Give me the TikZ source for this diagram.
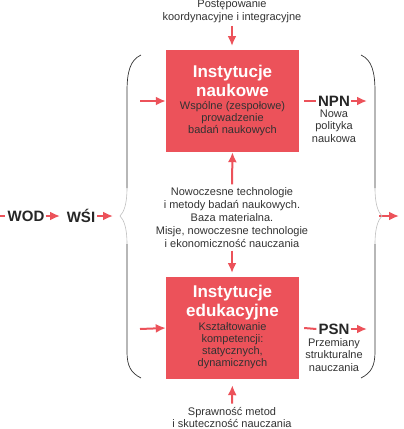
\documentclass[tikz,border=0pt]{standalone}
\usepackage{fontspec}
\setmainfont{Liberation Sans}
\usetikzlibrary{arrows.meta}
\definecolor{boxred}{RGB}{236,82,90}
\definecolor{txtgray}{RGB}{50,50,50}
\tikzset{
  redarrow/.style={draw=boxred, line width=2pt, -{Latex[length=10pt,width=9pt]}},
  redline/.style={draw=boxred, line width=2pt},
  instbox/.style={fill=boxred, minimum width=133pt, minimum height=102pt, inner sep=0pt},
  boxtitle/.style={text=white, font=\fontsize{17}{18.5}\selectfont\bfseries, align=center},
  boxsub/.style={text=txtgray, font=\fontsize{11}{12}\selectfont, align=center},
  plain/.style={text=txtgray, font=\fontsize{11}{12.5}\selectfont, align=center},
  acro/.style={text=black!85, font=\fontsize{15}{16}\selectfont\bfseries, inner sep=0pt},
  brace/.style={draw=black!80, line width=0.7pt},
  bracemid/.style={draw=black!25, line width=0.6pt}
}
\begin{document}
\begin{tikzpicture}[x=1pt, y=-1pt]
  \useasboundingbox (0,0) rectangle (404,429);

  % top input
  \node[plain] (coord) at (232,11) {Postępowanie\\koordynacyjne i integracyjne};
  \coordinate (coordtip) at (232,46);
  \draw[redarrow] (coord.south) -- (coordtip);

  % upper box
  \node[instbox] (nauk) at (232.5,101) {};
  \node[boxtitle] (nauktitle) at (232.5,81) {Instytucje\\naukowe};
  \node[boxsub] (nauksub) at (232.5,118.5) {Wspólne (zespołowe)\\prowadzenie\\badań naukowych};
  \coordinate (naukin) at (140,101);
  \draw[redarrow] (naukin) -- (nauk.west);

  \node[acro] (npn) at (334,101) {NPN};
  \node[plain, inner sep=0pt] (npndesc) at (334,126) {Nowa\\polityka\\naukowa};
  \coordinate (npnend) at (367,101);
  \draw[redline] (nauk.east) ++(5,0) -- ([xshift=-2pt]npn.west);
  \draw[redarrow] ([xshift=1pt]npn.east) -- (npnend);

  % middle
  \node[plain, font=\fontsize{11}{12.8}\selectfont] (tech) at (232,217.5)
    {Nowoczesne technologie\\i metody badań naukowych.\\Baza materialna.\\Misje, nowoczesne technologie\\i ekonomiczność nauczania};
  \draw[redarrow] (tech.north) -- (nauk.south);
  \draw[redarrow] (tech.south) -- (232,273);

  % lower box
  \node[instbox] (eduk) at (232.5,328) {};
  \node[boxtitle] (eduktitle) at (232.5,302.5) {Instytucje\\edukacyjne};
  \node[boxsub] (eduksub) at (232.5,346) {Kształtowanie\\kompetencji:\\statycznych,\\dynamicznych};
  \coordinate (edukin) at (140,329);
  \draw[redarrow] (edukin) -- (eduk.west);

  \node[acro] (psn) at (334,329) {PSN};
  \node[plain, inner sep=0pt] (psndesc) at (334,355) {Przemiany\\strukturalne\\nauczania};
  \coordinate (psnend) at (367,329);
  \draw[redline] (eduk.east) ++(5,0) -- ([xshift=-2pt]psn.west);
  \draw[redarrow] ([xshift=1pt]psn.east) -- (psnend);

  % bottom input
  \node[plain] (spraw) at (232,417.5) {Sprawność metod\\i skuteczność nauczania};
  \draw[redarrow, shorten >=6pt] (spraw.north) -- (eduk.south);

  % left chain
  \node[acro] (wod) at (26,216) {WOD};
  \node[acro] (wsi) at (81,216) {WŚI};
  \coordinate (wodstart) at (0,216);
  \coordinate (wsiend) at (113,216);
  \draw[redline] (wodstart) -- ([xshift=-2pt]wod.west);
  \draw[redarrow] ([xshift=1pt]wod.east) -- (60,216);
  \draw[redarrow] ([xshift=2pt]wsi.east) -- (wsiend);

  % right output
  \coordinate (outstart) at (379,216);
  \coordinate (outend) at (399,216);
  \draw[redarrow] (outstart) -- (outend);

  % left brace
  \draw[brace] (141,55) .. controls (130,60) and (127,72) .. (127,92) -- (127,188);
  \draw[bracemid] (127,188) .. controls (127,204) and (124,212) .. (120,216)
                  .. controls (124,220) and (127,228) .. (127,244);
  \draw[brace] (127,244) -- (127,352) .. controls (127,366) and (131,373) .. (141,378);

  % right brace
  \draw[brace] (361,55) .. controls (372,60) and (375,72) .. (375,92) -- (375,188);
  \draw[bracemid] (375,188) .. controls (375,204) and (378,212) .. (382,216)
                  .. controls (378,220) and (375,228) .. (375,244);
  \draw[brace] (375,244) -- (375,352) .. controls (375,366) and (371,373) .. (361,378);
\end{tikzpicture}
\end{document}
